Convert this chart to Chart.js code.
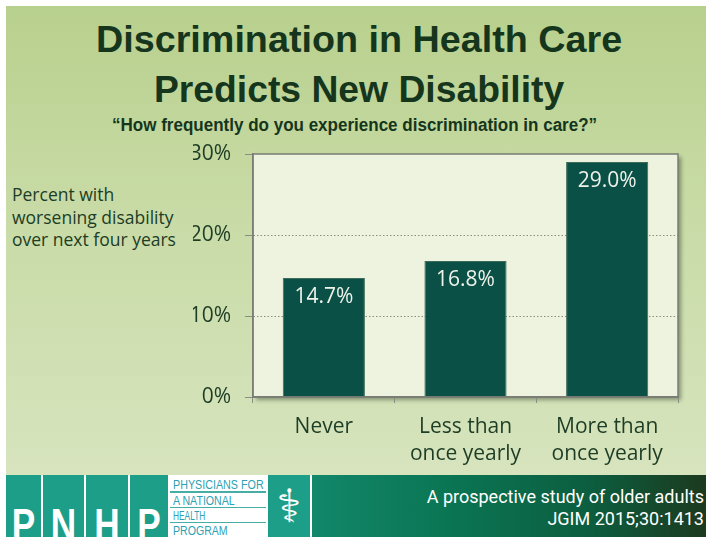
<!DOCTYPE html>
<html>
<head>
<meta charset="utf-8">
<script src="https://cdn.jsdelivr.net/npm/chart.js@4/dist/chart.umd.min.js"></script>
<style>
  html, body { margin: 0; padding: 0; background: #ffffff; overflow: hidden; }
  #slide { position: relative; width: 706px; height: 537px; overflow: hidden; background: #ffffff; }
  #bg { position: absolute; left: 6px; top: 6px; width: 700px; height: 469px;
        background: linear-gradient(180deg, #b8d08d 0%, #c7daa4 40%, #d7e4be 100%); }
  .fit { position: absolute; white-space: nowrap; display: inline-block; transform-origin: 0 0; }
  .title { font-family: "Liberation Sans", Arial, sans-serif; font-weight: bold; color: #15361c; font-size: 36px; line-height: 36px; }
  .sub { font-family: "Liberation Sans", Arial, sans-serif; font-weight: bold; color: #15361c; font-size: 18px; line-height: 18px; }
  .ytitle { position: absolute; left: 12px; white-space: nowrap; font-family: "Open Sans", sans-serif; font-size: 17.5px; line-height: 22.5px; color: #1d3d25; }
  canvas#c { position: absolute; left: 0; top: 0; }
  #footer { position: absolute; left: 6px; top: 475px; width: 700px; height: 62px; }
  .box { position: absolute; top: 0; height: 62px; background: #1d9e88; overflow: hidden; }
  .letter { position: absolute; left: 0; width: 100%; text-align: center; top: 28px; font-family: "Liberation Sans", sans-serif;
            font-weight: bold; font-size: 44px; line-height: 44px; color: #ffffff; transform: scaleX(0.8); }
  #panel { position: absolute; left: 164px; top: 0; width: 96px; height: 62px; background: #ffffff; }
  .prow { font-family: "Liberation Sans", sans-serif; font-size: 12.5px; line-height: 12.5px; color: #2c9fb3; }
  .uline { position: absolute; left: 0; width: 96px; height: 1.5px; background: #47aea6; }
  #grad { position: absolute; left: 306px; top: 0; width: 394px; height: 62px;
          background: linear-gradient(90deg, #12876a 0%, #0a7553 35%, #0c5e40 70%, #1c3a1e 100%); }
  .ftext { position: absolute; right: 2px; white-space: nowrap; font-family: "Roboto", sans-serif; font-size: 18px; line-height: 22px; color: #ffffff; text-align: right; }
</style>
</head>
<body>
<div id="slide">
  <div id="bg"></div>
  <span class="fit title" data-cx="359" data-w="526" style="top:22px;">Discrimination in Health Care</span>
  <span class="fit title" data-cx="359" data-w="410" style="top:72px;">Predicts New Disability</span>
  <span class="fit sub" data-cx="354.5" data-w="485" style="top:116px;">“How frequently do you experience discrimination in care?”</span>
  <div class="ytitle" style="top:183px;">Percent with<br>worsening disability<br>over next four years</div>

  <div id="footer">
    <div class="box" style="left:0px;width:35px;"><div class="letter">P</div></div>
    <div class="box" style="left:37px;width:41px;"><div class="letter">N</div></div>
    <div class="box" style="left:80px;width:42px;"><div class="letter">H</div></div>
    <div class="box" style="left:124px;width:38px;"><div class="letter">P</div></div>
    <div id="panel">
      <span class="fit prow" data-x="2.7" data-w="91" style="top:3.5px;">PHYSICIANS FOR</span>
      <div class="uline" style="top:16px;"></div>
      <span class="fit prow" data-x="2.7" data-w="62" style="top:19.5px;">A NATIONAL</span>
      <div class="uline" style="top:31.5px;"></div>
      <span class="fit prow" data-x="2.7" data-w="32" style="top:34.5px;">HEALTH</span>
      <div class="uline" style="top:46.5px;"></div>
      <span class="fit prow" data-x="2.7" data-w="55" style="top:50px;">PROGRAM</span>
    </div>
    <div class="box" style="left:262px;width:42px;"><div class="letter" style="top:4px;font-family:'DejaVu Sans',sans-serif;font-size:46px;line-height:54px;font-weight:normal;transform:none;">⚕</div></div>
    <div id="grad">
      <div class="ftext" style="top:11px;">A prospective study of older adults</div>
      <div class="ftext" style="top:33px;">JGIM 2015;30:1413</div>
    </div>
  </div>

  <canvas id="c" width="706" height="537"></canvas>
</div>

<script>
// text fitting to measured reference widths
document.querySelectorAll('.fit').forEach(el => {
  const w = el.offsetWidth;
  const target = parseFloat(el.dataset.w);
  const k = target / w;
  let left;
  if (el.dataset.cx !== undefined) left = parseFloat(el.dataset.cx) - target / 2;
  else left = parseFloat(el.dataset.x);
  el.style.left = left + 'px';
  el.style.transform = 'scaleX(' + k + ')';
});

const categories = [["Never"], ["Less than", "once yearly"], ["More than", "once yearly"]];
const values = [14.7, 16.8, 29.0];
const yTicks = [0, 10, 20, 30];

const AREA = { left: 253, top: 154, right: 678, bottom: 397 };
const Y_W = 60, X_H = 80;

const framePlugin = {
  id: 'frame',
  beforeDraw(chart) {
    const { ctx, chartArea: a } = chart;
    ctx.save();
    ctx.shadowColor = 'rgba(40,50,30,0.45)';
    ctx.shadowBlur = 4;
    ctx.shadowOffsetX = 3;
    ctx.shadowOffsetY = 3;
    ctx.fillStyle = '#edf3de';
    ctx.fillRect(a.left, a.top, a.right - a.left, a.bottom - a.top);
    ctx.restore();
  },
  afterDraw(chart) {
    const { ctx, chartArea: a } = chart;
    ctx.save();
    ctx.strokeStyle = '#7a7d74';
    ctx.lineWidth = 1.5;
    ctx.strokeRect(a.left, a.top, a.right - a.left, a.bottom - a.top);
    ctx.restore();
  }
};

const labelPlugin = {
  id: 'vlabels',
  afterDatasetsDraw(chart) {
    const { ctx } = chart;
    const meta = chart.getDatasetMeta(0);
    ctx.save();
    ctx.font = '21px "Open Sans", sans-serif';
    ctx.fillStyle = '#eef2e8';
    ctx.textAlign = 'center';
    ctx.textBaseline = 'middle';
    meta.data.forEach((bar, i) => {
      ctx.fillText(values[i].toFixed(1) + '%', bar.x, bar.y + 19);
    });
    ctx.restore();
  }
};

new Chart(document.getElementById('c'), {
  type: 'bar',
  data: {
    labels: categories,
    datasets: [{
      data: values,
      backgroundColor: '#0b5046',
      borderColor: '#3d6b5a',
      borderWidth: 1,
      barPercentage: 0.58,
      categoryPercentage: 1.0
    }]
  },
  options: {
    responsive: false,
    animation: false,
    devicePixelRatio: 1,
    layout: { padding: { left: AREA.left - Y_W, top: AREA.top, right: 706 - AREA.right, bottom: 537 - AREA.bottom - X_H } },
    plugins: { legend: { display: false }, tooltip: { enabled: false }, title: { display: false } },
    scales: {
      x: {
        afterFit(s) { s.height = X_H; },
        grid: { offset: true, drawOnChartArea: false, drawTicks: true, tickLength: 6, tickColor: '#8a8d84', tickWidth: 1 },
        border: { display: true, color: '#7a7d74', width: 1.5 },
        ticks: { color: '#1d3d25', font: { family: 'Open Sans', size: 21, lineHeight: 1.3 }, padding: 10, maxRotation: 0 }
      },
      y: {
        min: 0, max: 30,
        afterFit(s) { s.width = Y_W; },
        afterBuildTicks(s) { s.ticks = yTicks.map(v => ({ value: v })); },
        grid: {
          drawOnChartArea: true,
          color: (c) => (c.tick && (c.tick.value === 10 || c.tick.value === 20)) ? '#8a8d84' : 'rgba(0,0,0,0)',
          lineWidth: 1,
          tickLength: 8, tickColor: '#8a8d84', tickWidth: 1, tickBorderDash: []
        },
        border: { display: true, color: '#7a7d74', width: 1.5, dash: [1.5, 2] },
        ticks: { color: '#1d3d25', font: { family: 'Open Sans', size: 21 }, padding: 14, callback: (v) => v + '%' }
      }
    }
  },
  plugins: [framePlugin, labelPlugin]
});
</script>
</body>
</html>
